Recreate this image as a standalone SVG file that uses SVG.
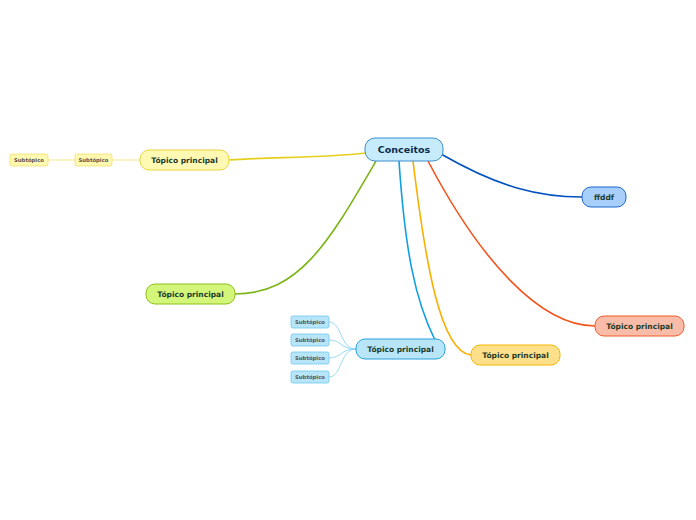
<svg xmlns="http://www.w3.org/2000/svg" width="696" height="520" viewBox="0 0 696 520">
<style>
text{font-family:"DejaVu Sans","Liberation Sans",sans-serif;font-weight:bold;text-anchor:middle;dominant-baseline:central}
.main{font-size:9.5px;fill:#0d2a4a}
.topic{font-size:7.5px;fill:#1d3b2a}
.sub{font-size:5.3px;fill:#555}
.c{fill:none;stroke-width:1.6}
.s{fill:none;stroke-width:0.8}
</style>
<rect width="696" height="520" fill="#fff"/>
<g id="connectors">
<path class="c" stroke="#e6cf1c" d="M366,153 C320,158 270,157 229,160"/>
<path class="c" stroke="#7cb518" d="M376,161 C330,240 300,294 235,294"/>
<path class="c" stroke="#0fa0e0" d="M399,161 C405,250 415,300 435,340"/>
<path class="c" stroke="#f5b000" d="M413,161 C425,260 440,352 471,355"/>
<path class="c" stroke="#f2541e" d="M428,161 C480,260 540,326 595,326"/>
<path class="c" stroke="#0050c0" d="M441,154 C500,188 540,197 582,197"/>
<path class="s" stroke="#f2e36a" d="M140,160 C125,160 120,160 112,160"/>
<path class="s" stroke="#f2e36a" d="M75,160 L48,160"/>
<path class="s" stroke="#7fd0f0" d="M356,349 C340,349 342,322 329,322"/>
<path class="s" stroke="#7fd0f0" d="M356,349 C340,349 342,340 329,340"/>
<path class="s" stroke="#7fd0f0" d="M356,349 C340,349 342,358 329,358"/>
<path class="s" stroke="#7fd0f0" d="M356,349 C340,349 342,377 329,377"/>
</g>
<g id="central">
<rect x="365" y="138" width="78" height="23" rx="10" fill="#c6ebfb" stroke="#3b8fd0" stroke-width="1"/>
<text class="main" x="404" y="149.5">Conceitos</text>
</g>
<g id="topic-yellow">
<rect x="140" y="150" width="89" height="20" rx="9" fill="#fff9b3" stroke="#e8d53a" stroke-width="1"/>
<text class="topic" x="184.5" y="160">Tópico principal</text>
</g>
<g id="sub-yellow-1">
<rect x="75" y="154" width="37" height="12" rx="2" fill="#fff8b0" stroke="#f0e070" stroke-width="0.8"/>
<text class="sub" x="93.5" y="160">Subtópico</text>
</g>
<g id="sub-yellow-2">
<rect x="10" y="154" width="38" height="12" rx="2" fill="#fff8b0" stroke="#f0e070" stroke-width="0.8"/>
<text class="sub" x="29" y="160">Subtópico</text>
</g>
<g id="topic-green">
<rect x="146" y="284" width="89" height="20" rx="9" fill="#d3f57a" stroke="#8dbf1a" stroke-width="1"/>
<text class="topic" x="190.5" y="294">Tópico principal</text>
</g>
<g id="topic-blue">
<rect x="356" y="339" width="89" height="20" rx="9" fill="#b8e6f8" stroke="#2aa0dc" stroke-width="1"/>
<text class="topic" x="400.5" y="349">Tópico principal</text>
</g>
<g id="sub-blue-1">
<rect x="291" y="316" width="38" height="12" rx="2" fill="#b8e6f8" stroke="#6cc8ee" stroke-width="0.8"/>
<text class="sub" x="310" y="322">Subtópico</text>
</g>
<g id="sub-blue-2">
<rect x="291" y="334" width="38" height="12" rx="2" fill="#b8e6f8" stroke="#6cc8ee" stroke-width="0.8"/>
<text class="sub" x="310" y="340">Subtópico</text>
</g>
<g id="sub-blue-3">
<rect x="291" y="352" width="38" height="12" rx="2" fill="#b8e6f8" stroke="#6cc8ee" stroke-width="0.8"/>
<text class="sub" x="310" y="358">Subtópico</text>
</g>
<g id="sub-blue-4">
<rect x="291" y="371" width="38" height="12" rx="2" fill="#b8e6f8" stroke="#6cc8ee" stroke-width="0.8"/>
<text class="sub" x="310" y="377">Subtópico</text>
</g>
<g id="topic-orange">
<rect x="471" y="345" width="89" height="20" rx="9" fill="#ffe08a" stroke="#f7b500" stroke-width="1"/>
<text class="topic" x="515.5" y="355">Tópico principal</text>
</g>
<g id="topic-ffddf">
<rect x="582" y="187" width="44" height="20" rx="9" fill="#a8cffc" stroke="#1a66cc" stroke-width="1"/>
<text class="topic" x="604" y="197">ffddf</text>
</g>
<g id="topic-red">
<rect x="595" y="316" width="89" height="20" rx="9" fill="#f9bca8" stroke="#ef5a2a" stroke-width="1"/>
<text class="topic" x="639.5" y="326">Tópico principal</text>
</g>
</svg>
